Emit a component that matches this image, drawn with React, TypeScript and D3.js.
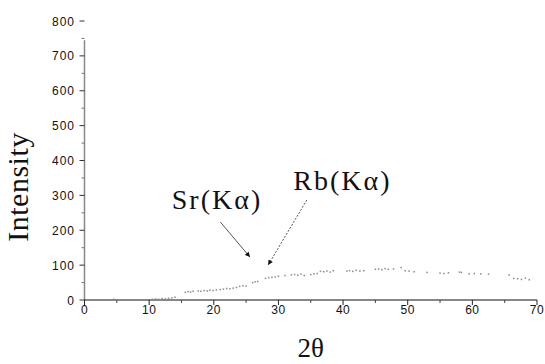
import React, { useRef, useEffect } from "react";
import * as d3 from "d3";

// 2theta (deg) and intensity
const theta = [
  1, 2, 3.5, 4.5, 5, 6.5, 8, 9, 10.5, 11, 11.5, 12, 12.5, 13, 13.5, 14,
  15.6, 16, 16.4, 16.8, 17.6, 18, 18.5, 19, 19.4, 19.9, 20.4, 21, 21.5,
  22, 22.5, 23, 23.5, 24, 24.5, 25, 26, 26.4, 26.8, 28, 28.5, 29, 29.5, 30,
  31, 32, 32.5, 33, 33.5, 34, 35, 35.5, 36, 36.5, 37, 37.5, 38, 38.5,
  40.6, 41, 41.5, 42, 42.6, 43.2, 45, 45.5, 46, 46.5, 47, 47.8,
  49, 49.6, 50.2, 51, 53, 55, 55.6, 56.3, 58, 58.3,
  59.5, 60.3, 61.3, 62.5, 65.7, 66.4, 67, 67.6, 68.2, 68.8,
];
const intensity = [
  0, 1, 0, 2, 1, 0, 1, 0, 2, 3, 2, 4, 3, 5, 6, 8,
  22, 24, 23, 25, 26, 25, 27, 26, 28, 27, 29, 30, 31,
  33, 32, 34, 36, 39, 41, 40, 50, 52, 53, 62, 64, 65, 66, 68,
  70, 72, 73, 71, 74, 70, 73, 75, 76, 82, 81, 83, 80, 84,
  83, 84, 82, 85, 83, 84, 88, 89, 87, 90, 88, 89,
  93, 84, 83, 81, 79, 77, 76, 78, 80, 79,
  75, 76, 75, 74, 72, 62, 61, 59, 63, 58,
];

const xTicks = [0, 10, 20, 30, 40, 50, 60, 70];
const yTicks = [0, 100, 200, 300, 400, 500, 600, 700, 800];

// peak labels: text anchor and arrow in data units
const peakLabels = ["Sr(K\u03b1)", "Rb(K\u03b1)"];
const labelAt = [[13.5, 261], [32.3, 315]];
const arrowFrom = [[21.0, 224], [34.4, 287]];
const arrowTo = [[25.6, 123], [28.4, 100]];

export default function App() {
  const ref = useRef(null);

  useEffect(() => {
    const svg = d3.select(ref.current);
    svg.selectAll("*").remove();

    const x = d3.scaleLinear().domain([0, 70]).range([84.5, 537]);
    const y = d3.scaleLinear().domain([0, 800]).range([300, 21]);
    const sans = "'Liberation Sans', Arial, sans-serif";
    const serif = "'Liberation Serif', 'Times New Roman', serif";

    svg
      .append("defs")
      .append("marker")
      .attr("id", "head")
      .attr("viewBox", "0 0 10 10")
      .attr("refX", 10)
      .attr("refY", 5)
      .attr("markerWidth", 7)
      .attr("markerHeight", 5)
      .attr("markerUnits", "userSpaceOnUse")
      .attr("orient", "auto")
      .append("path")
      .attr("d", "M0,0 L10,5 L0,10 z")
      .attr("fill", "#111");

    // y axis
    svg.append("line")
      .attr("x1", x(0)).attr("x2", x(0))
      .attr("y1", y(0)).attr("y2", y(745))
      .attr("stroke", "#888").attr("stroke-width", 1.5);
    const yMinor = d3.range(50, 800, 100);
    svg.selectAll(".ymin").data(yMinor).enter().append("line")
      .attr("x1", x(0) - 3).attr("x2", x(0))
      .attr("y1", (d) => y(d)).attr("y2", (d) => y(d))
      .attr("stroke", "#777").attr("stroke-width", 1);
    svg.selectAll(".ymaj").data(yTicks).enter().append("line")
      .attr("x1", x(0) - 5).attr("x2", x(0))
      .attr("y1", (d) => y(d)).attr("y2", (d) => y(d))
      .attr("stroke", "#333").attr("stroke-width", 1);
    svg.selectAll(".ylab").data(yTicks).enter().append("text")
      .attr("x", 75).attr("y", (d) => y(d) + 4.5)
      .attr("text-anchor", "end")
      .attr("font-family", sans).attr("font-size", 12)
      .attr("letter-spacing", 1)
      .attr("fill", "#111")
      .text((d) => d);

    // x axis
    svg.append("line")
      .attr("x1", x(0)).attr("x2", x(70))
      .attr("y1", y(0)).attr("y2", y(0))
      .attr("stroke", "#111").attr("stroke-width", 1.2);
    const xMinor = d3.range(5, 70, 10);
    svg.selectAll(".xmin").data(xMinor).enter().append("line")
      .attr("x1", (d) => x(d)).attr("x2", (d) => x(d))
      .attr("y1", y(0)).attr("y2", y(0) + 3)
      .attr("stroke", "#444").attr("stroke-width", 1);
    svg.selectAll(".xmaj").data(xTicks).enter().append("line")
      .attr("x1", (d) => x(d)).attr("x2", (d) => x(d))
      .attr("y1", y(0)).attr("y2", y(0) + 5)
      .attr("stroke", "#222").attr("stroke-width", 1);
    svg.selectAll(".xlab").data(xTicks).enter().append("text")
      .attr("x", (d) => x(d)).attr("y", 314)
      .attr("text-anchor", "middle")
      .attr("font-family", sans).attr("font-size", 12)
      .attr("letter-spacing", 0.5)
      .attr("fill", "#111")
      .text((d) => d);

    // scan points, faint specks
    svg.selectAll(".pt").data(theta).enter().append("rect")
      .attr("x", (d) => x(d) - 0.75)
      .attr("y", (d, i) => y(intensity[i]) - 0.75)
      .attr("width", 1.5).attr("height", 1.5)
      .attr("fill", "#8a8a8a");

    // axis titles
    svg.append("text")
      .attr("transform", `translate(28,187) rotate(-90)`)
      .attr("text-anchor", "middle")
      .attr("font-family", serif).attr("font-size", 30)
      .attr("letter-spacing", 0.5)
      .attr("fill", "#111")
      .text("Intensity");
    svg.append("text")
      .attr("x", (x(0) + x(70)) / 2).attr("y", 357)
      .attr("text-anchor", "middle")
      .attr("font-family", serif).attr("font-size", 27)
      .attr("fill", "#111")
      .text("2\u03b8");

    // peak annotations
    peakLabels.forEach((lab, i) => {
      svg.append("text")
        .attr("x", x(labelAt[i][0])).attr("y", y(labelAt[i][1]))
        .attr("font-family", serif).attr("font-size", 28)
        .attr("letter-spacing", 2)
        .attr("fill", "#111")
        .text(lab);
      svg.append("line")
        .attr("x1", x(arrowFrom[i][0])).attr("y1", y(arrowFrom[i][1]))
        .attr("x2", x(arrowTo[i][0])).attr("y2", y(arrowTo[i][1]))
        .attr("stroke", "#555").attr("stroke-width", 1)
        .attr("stroke-dasharray", i === 1 ? "2,1.5" : null)
        .attr("marker-end", "url(#head)");
    });
  }, []);

  return (
    <svg
      ref={ref}
      width={545}
      height={364}
      style={{ position: "absolute", left: 0, top: 0, background: "#fff" }}
    ></svg>
  );
}
